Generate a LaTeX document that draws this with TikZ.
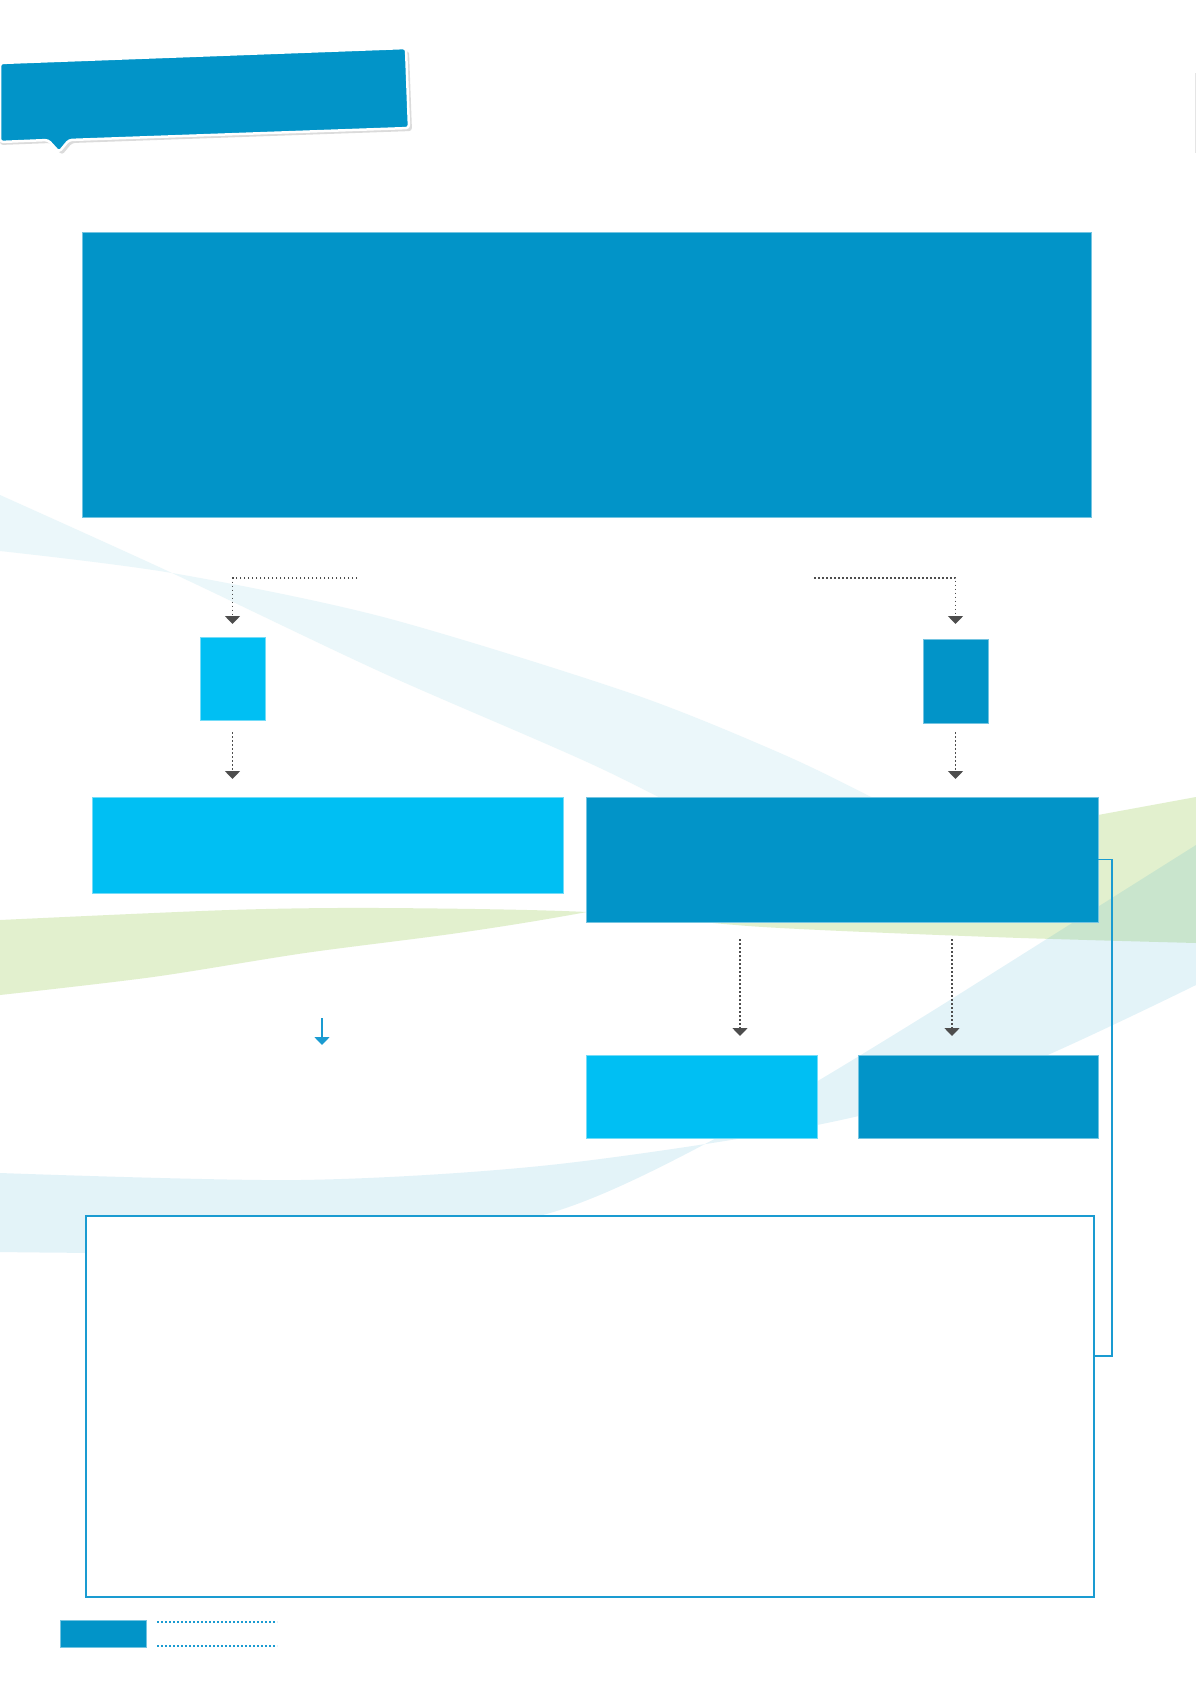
\documentclass[tikz,border=0pt]{standalone}
\usetikzlibrary{arrows.meta,positioning}
\definecolor{deepblue}{HTML}{0294C8}
\definecolor{skyblue}{HTML}{00BFF3}
\definecolor{arrowgray}{HTML}{4D4D4D}
\definecolor{paleband}{HTML}{EBF7FA}
\definecolor{leafgreen}{HTML}{8CC63F}
\definecolor{rimblue}{HTML}{1A9BD1}
\tikzset{
  panel/.style={rectangle,inner sep=0pt,outer sep=0pt,anchor=north west,line width=0.8pt},
  darkpanel/.style={panel,fill=deepblue,draw=deepblue!55},
  lightpanel/.style={panel,fill=skyblue,draw=skyblue!55},
  dotarrow/.style={draw=arrowgray,line width=1.5pt,dash pattern=on 1.5pt off 2.5pt,
    -{Triangle[width=15pt,length=8pt,fill=arrowgray]}},
}

\begin{document}
\begin{tikzpicture}[x=1pt,y=-1pt]
  \useasboundingbox (0,0) rectangle (1196,1692);
  \fill[white] (0,0) rectangle (1196,1692);

  \begin{scope}
  \fill[paleband] plot[smooth] coordinates {(0,495) (172,573) (383,673) (600,768) (760,850)}
    -- plot[smooth] coordinates {(950,840) (877,800) (780,753) (630,693) (383,617) (172,573) (0,551)} -- cycle;
  \fill[leafgreen,fill opacity=0.25] plot[smooth] coordinates {(0,920) (229,910) (381,908) (587,912) (763,927) (992,937) (1196,943)}
    -- (1196,797) -- plot[smooth] coordinates {(1098,815) (850,862) (587,912) (458,933) (305,953) (153,977) (0,995)} -- cycle;
  \fill[deepblue,fill opacity=0.11] plot[smooth] coordinates {(0,1173) (300,1180) (550,1165) (817,1125) (1000,1075) (1196,985)}
    -- (1196,845) -- plot[smooth] coordinates {(950,1000) (750,1120) (550,1213) (300,1250) (0,1252)} -- cycle;
  \end{scope}

  \draw[black!10,line width=1pt] (1195,73) -- (1195,153);

  \begin{scope}[rounded corners=3pt]
  \fill[black!35,opacity=0.4] (0,66) -- (409,51) -- (412,131) -- (72,143) -- (62,155) -- (51,143) -- (0,145) -- cycle;
  \filldraw[fill=deepblue,draw=white,line width=2.5pt] (0,63) -- (406,48) -- (409,128) -- (69,140) -- (59,152) -- (48,140) -- (0,142) -- cycle;
  \end{scope}

  \node[darkpanel,minimum width=1009pt,minimum height=285pt] (intro) at (82,232) {};
  \node[lightpanel,minimum width=65pt,minimum height=83pt] (tagA) at (200,637) {};
  \node[darkpanel,minimum width=65pt,minimum height=84pt] (tagB) at (923,639) {};
  \node[lightpanel,minimum width=471pt,minimum height=96pt] (pathA) at (92,797) {};
  \node[darkpanel,minimum width=512pt,minimum height=125pt] (pathB) at (586,797) {};
  \node[lightpanel,minimum width=231pt,minimum height=83pt] (outcomeA) at (586,1055) {};
  \node[darkpanel,minimum width=240pt,minimum height=83pt] (outcomeB) at (858,1055) {};
  \node[panel,fill=white,draw=rimblue,line width=2pt,minimum width=1008pt,minimum height=381pt] (summary) at (86,1216) {};
  \node[darkpanel,minimum width=86pt,minimum height=27pt] (badge) at (60,1620) {};

  \coordinate (srcA) at (357,578);
  \coordinate (srcB) at (814,578);
  \coordinate (forkA) at (740,939);
  \coordinate (forkB) at (952,939);
  \coordinate (hintTop) at (322,1018);
  \coordinate (hintEnd) at (322,1045);
  \coordinate (brk) at (1112,1356);

  \draw[dotarrow,shorten >=13pt] (srcA) -| (tagA.north);
  \draw[dotarrow,shorten >=15pt] (srcB) -| (tagB.north);
  \draw[dotarrow,shorten <=12pt,shorten >=18pt] (tagA.south) -- (tagA.south |- pathA.north);
  \draw[dotarrow,shorten <=9pt,shorten >=18pt] (tagB.south) -- (tagB.south |- pathB.north);
  \draw[dotarrow,shorten >=19pt] (forkA) -- (forkA |- outcomeA.north);
  \draw[dotarrow,shorten >=19pt] (forkB) -- (forkB |- outcomeB.north);
  \draw[rimblue,line width=1.6pt,-{Triangle[width=15pt,length=8pt]}] (hintTop) -- (hintEnd);
  \draw[rimblue,line width=1.6pt] (pathB.east) -| (brk) -- (brk -| summary.east);

  \begin{scope}[rimblue,line width=1.8pt,dash pattern=on 1.8pt off 2.2pt]
  \draw ([xshift=11pt,yshift=-2pt]badge.north east) -- ++(120,0);
  \draw ([xshift=11pt,yshift=1pt]badge.south east) -- ++(120,0);
  \end{scope}
\end{tikzpicture}
\end{document}
